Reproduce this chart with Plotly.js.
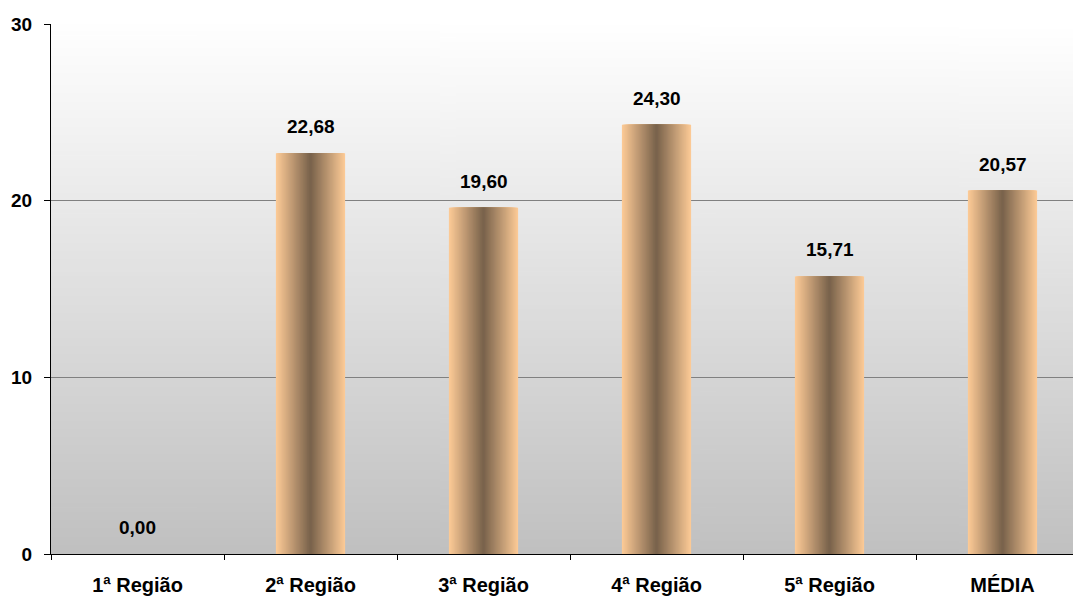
<!DOCTYPE html>
<html>
<head>
<meta charset="utf-8">
<script src="https://cdn.plot.ly/plotly-3.0.1.min.js"></script>
<style>
html, body { margin:0; padding:0; overflow:hidden; background:#fff; }
#chart { width:1100px; height:598px; }
</style>
</head>
<body>
<div id="chart"></div>
<script>
// Data
const categories = ["1ª Região", "2ª Região", "3ª Região", "4ª Região", "5ª Região", "MÉDIA"];
const values = [0.00, 22.68, 19.60, 24.30, 15.71, 20.57];
const yTicks = [0, 10, 20, 30];

// Styles
const edgeColor = [252, 202, 150];
const centerColor = [118, 96, 74];
const barWidth = 0.4;
const strips = 40;
const font = "Liberation Sans, Arial, sans-serif";

function lerp(a, b, t) { return a.map((v, i) => Math.round(v + (b[i] - v) * t)); }

// Background gradient image
const cv = document.createElement('canvas');
cv.width = 4; cv.height = 256;
const ctx = cv.getContext('2d');
const g = ctx.createLinearGradient(0, 0, 0, 256);
g.addColorStop(0, '#ffffff');
g.addColorStop(1, '#c0c0c0');
ctx.fillStyle = g;
ctx.fillRect(0, 0, 4, 256);
const bgURL = cv.toDataURL();

// Nested centered bars produce a horizontal gradient (edge -> center)
const traces = [];
for (let k = 0; k < strips; k++) {
  const f = 1 - k / strips;
  const c = lerp(centerColor, edgeColor, f);
  traces.push({
    type: 'bar',
    x: categories,
    y: values,
    width: barWidth * f,
    marker: { color: `rgb(${c[0]},${c[1]},${c[2]})`, line: { width: 0 } },
    hoverinfo: 'skip',
    showlegend: false
  });
}

const annotations = categories.map((c, i) => ({
  x: c, y: values[i], xref: 'x', yref: 'y',
  text: values[i].toFixed(2).replace('.', ','),
  showarrow: false, yanchor: 'bottom', yshift: 14,
  font: { family: font, size: 19, color: '#000', weight: 'bold' }
}));

const layout = {
  width: 1100, height: 598,
  margin: { l: 51, r: 11, t: 24, b: 44 },
  paper_bgcolor: '#ffffff',
  plot_bgcolor: 'rgba(0,0,0,0)',
  barmode: 'overlay',
  showlegend: false,
  images: [{ source: bgURL, xref: 'paper', yref: 'paper', x: 0, y: 1, sizex: 1, sizey: 1,
             sizing: 'stretch', layer: 'below', xanchor: 'left', yanchor: 'top' }],
  xaxis: {
    type: 'category',
    tickson: 'boundaries',
    ticks: 'outside', ticklen: 5, tickcolor: '#000', tickwidth: 1,
    showline: true, linecolor: '#000', linewidth: 1,
    showgrid: false, zeroline: false,
    ticklabelstandoff: 13,
    tickfont: { family: font, size: 20, color: '#000', weight: 'bold' }
  },
  yaxis: {
    range: [0, 30], tickvals: yTicks, ticktext: yTicks.map(String),
    ticks: 'outside', ticklen: 6, tickcolor: '#000', tickwidth: 1,
    showline: true, linecolor: '#000', linewidth: 1,
    showgrid: true, gridcolor: '#808080', gridwidth: 1,
    zeroline: false,
    ticklabelstandoff: 8,
    tickfont: { family: font, size: 19, color: '#000', weight: 'bold' }
  },
  annotations: annotations
};

Plotly.newPlot('chart', traces, layout, { displayModeBar: false, staticPlot: true });
</script>
</body>
</html>
